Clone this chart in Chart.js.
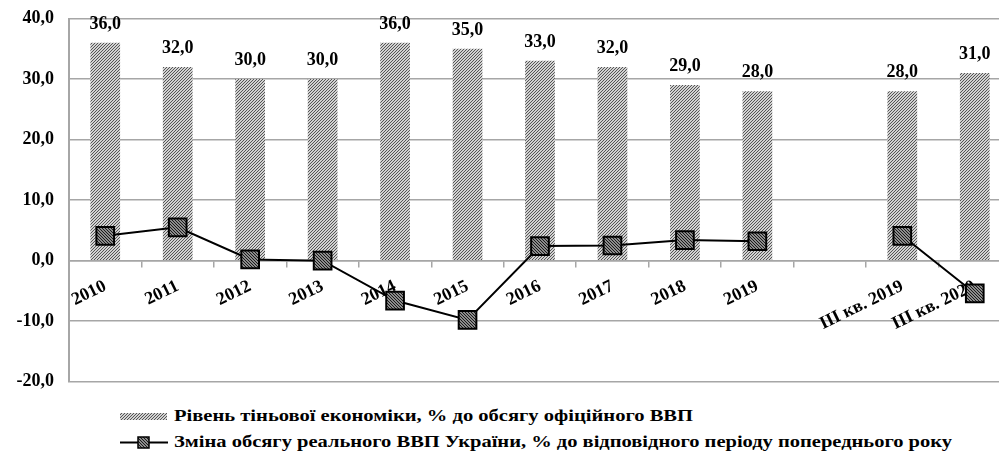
<!DOCTYPE html>
<html>
<head>
<meta charset="utf-8">
<script src="https://cdn.jsdelivr.net/npm/chart.js@4.4.1/dist/chart.umd.min.js"></script>
<style>
  html, body { margin: 0; padding: 0; background: #fff; overflow: hidden; width: 999px; height: 464px; }
  #wrap { position: absolute; left: 0; top: 0; width: 1012px; height: 395px; }
  .legend { position: absolute; left: 120px; top: 0; font: bold 16px "Liberation Serif", "Times New Roman", serif; color: #000; }
  .legend div { position: absolute; left: 0; white-space: nowrap; height: 20px; line-height: 20px; }
  .legend canvas { position: absolute; left: 0; top: 0; }
  .legend span { position: absolute; left: 54px; top: 0; transform-origin: 0 50%; }
</style>
</head>
<body>
<div id="wrap"><canvas id="shadowChart"></canvas></div>
<div class="legend">
  <div style="top:406px"><canvas id="legBar" width="50" height="20"></canvas><span id="legText1">Рівень тіньової економіки, % до обсягу офіційного ВВП</span></div>
  <div style="top:432px"><canvas id="legLine" width="50" height="20"></canvas><span id="legText2">Зміна обсягу реального ВВП України, % до відповідного періоду попереднього року</span></div>
</div>
<script>
// Дані графіка
const categories = ['2010', '2011', '2012', '2013', '2014', '2015', '2016', '2017', '2018', '2019', '', 'III кв. 2019', 'III кв. 2020'];
const shadowLevel = [36, 32, 30, 30, 36, 35, 33, 32, 29, 28, null, 28, 31];
const gdpChange = [4.1, 5.5, 0.2, 0.0, -6.6, -9.8, 2.4, 2.5, 3.4, 3.2, null, 4.1, -5.4];
const yTicks = [-20, -10, 0, 10, 20, 30, 40];

const serif = '"Liberation Serif", "Times New Roman", serif';

// Штрихування
function hatch(bg, fg, dir, step, lw) {
    const c = document.createElement('canvas');
    c.width = step; c.height = step;
    const g = c.getContext('2d');
    g.fillStyle = bg;
    g.fillRect(0, 0, step, step);
    g.strokeStyle = fg;
    g.lineWidth = lw;
    g.beginPath();
    for (let k = -1; k <= 1; k++) {
        if (dir > 0) {
            g.moveTo(k * step, step);
            g.lineTo(k * step + step, 0);
        } else {
            g.moveTo(k * step, 0);
            g.lineTo(k * step + step, step);
        }
    }
    g.stroke();
    return g.createPattern(c, 'repeat');
}

const barFill = hatch('#d2d2d2', '#555555', 1, 3, 1);
const markFill = hatch('#8c8c8c', '#1a1a1a', -1, 3, 1);

const fmt = v => v.toFixed(1).replace('.', ',');

// Підписи над стовпцями
const barLabels = {
    id: 'barLabels',
    afterDatasetsDraw(chart) {
        const ctx = chart.ctx;
        const meta = chart.getDatasetMeta(1);
        ctx.save();
        ctx.font = 'bold 18px ' + serif;
        ctx.fillStyle = '#000';
        ctx.textAlign = 'center';
        ctx.textBaseline = 'alphabetic';
        meta.data.forEach((bar, i) => {
            if (shadowLevel[i] === null) return;
            ctx.fillText(fmt(shadowLevel[i]), bar.x, bar.y - 14);
        });
        ctx.restore();
    }
};

const ctx = document.getElementById('shadowChart').getContext('2d');
const shadowChart = new Chart(ctx, {
    type: 'bar',
    data: {
        labels: categories,
        datasets: [{
            type: 'line',
            label: 'Зміна обсягу реального ВВП України, % до відповідного періоду попереднього року',
            data: gdpChange,
            borderColor: '#000',
            borderWidth: 2,
            pointStyle: 'rect',
            pointRadius: 12.5,
            pointHoverRadius: 12.5,
            pointBackgroundColor: markFill,
            pointBorderColor: '#000',
            pointBorderWidth: 2,
            spanGaps: false,
            order: 0
        }, {
            label: 'Рівень тіньової економіки, % до обсягу офіційного ВВП',
            data: shadowLevel,
            backgroundColor: barFill,
            barPercentage: 0.5,
            categoryPercentage: 0.82,
            order: 1
        }]
    },
    options: {
        responsive: true,
        maintainAspectRatio: false,
        animation: false,
        layout: { autoPadding: false, padding: { top: 18.5, bottom: 13.3, left: 0, right: 1 } },
        plugins: {
            legend: { display: false },
            tooltip: { enabled: false }
        },
        scales: {
            x: {
                position: { y: 0 },
                grid: { drawOnChartArea: false, drawTicks: true, tickLength: 6, color: '#a6a6a6', lineWidth: 1.5, offset: true },
                border: { color: '#a6a6a6', width: 1.5 },
                ticks: {
                    autoSkip: false,
                    minRotation: 26,
                    maxRotation: 26,
                    padding: 9,
                    color: '#000',
                    font: { family: serif, size: 18, weight: 'bold' }
                }
            },
            y: {
                min: -20,
                max: 40,
                afterBuildTicks(scale) {
                    scale.ticks = yTicks.map(v => ({ value: v }));
                },
                afterFit(scale) {
                    scale.width = 69;
                    scale.paddingTop = 0;
                    scale.paddingBottom = 0;
                },
                grid: { color: '#a6a6a6', lineWidth: 1.5, drawTicks: false },
                border: { color: '#a6a6a6', width: 2 },
                ticks: {
                    padding: 15,
                    color: '#000',
                    font: { family: serif, size: 18, weight: 'bold' },
                    callback: v => fmt(v)
                }
            }
        }
    },
    plugins: [barLabels]
});

// Легенда
const lb = document.getElementById('legBar').getContext('2d');
lb.fillStyle = barFill;
lb.fillRect(0, 7, 47, 7);
const ll = document.getElementById('legLine').getContext('2d');
ll.strokeStyle = '#000';
ll.lineWidth = 2;
ll.beginPath();
ll.moveTo(0, 10.5);
ll.lineTo(48, 10.5);
ll.stroke();
ll.fillStyle = markFill;
ll.fillRect(18, 5, 11, 11);
ll.lineWidth = 1.5;
ll.strokeRect(18, 5, 11, 11);

// розтягування тексту легенди під ширину оригіналу
[['legText1', 519], ['legText2', 778]].forEach(([id, w]) => {
    const el = document.getElementById(id);
    el.style.transform = 'scaleX(' + (w / el.getBoundingClientRect().width) + ')';
});
</script>
</body>
</html>
